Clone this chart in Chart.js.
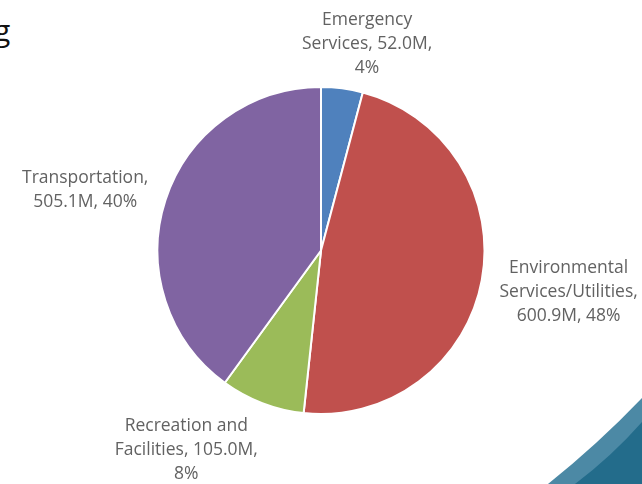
<!DOCTYPE html>
<html>
<head>
<meta charset="utf-8">
<script src="https://cdn.jsdelivr.net/npm/chart.js@4.4.1/dist/chart.umd.min.js"></script>
<style>
html, body { margin: 0; padding: 0; background: #fff; overflow: hidden; }
#marco { position: relative; width: 642px; height: 484px; }
#titulo { position: absolute; left: -6px; top: 9px; font: 30px "Open Sans", sans-serif; color: #111; }
#esquina { position: absolute; left: 0; top: 0; }
#grafico { position: absolute; left: 0; top: 0; }
</style>
</head>
<body>
<div id="marco">
  <div id="titulo">g</div>
  <svg id="esquina" width="642" height="484">
    <path d="M548 484 Q598 444 642 398 L642 484 Z" fill="#4c89a5"/>
    <path d="M575 484 Q612 456 642 422 L642 484 Z" fill="#236c8b"/>
  </svg>
  <canvas id="grafico" width="642" height="484"></canvas>
</div>
<script>
// gasto por area, en millones
var categorias = ["Emergency Services", "Environmental Services/Utilities", "Recreation and Facilities", "Transportation"];
var valores = [52.0, 600.9, 105.0, 505.1];
var colores = ["#4f81bd", "#c0504d", "#9bbb59", "#8064a2"];
// como se parte cada etiqueta en renglones ({v} = valor, {p} = porcentaje)
var formatos = [
    "Emergency\nServices, {v},\n{p}",
    "Environmental\nServices/Utilities,\n{v}, {p}",
    "Recreation and\nFacilities, {v},\n{p}",
    "Transportation,\n{v}, {p}"
];

var LH = 24;
function tope(n){ return Math.max(-1, Math.min(1, n)); }

// etiquetas fuera de cada porcion
var etiquetas = {
    id: "etiquetas",
    afterDatasetsDraw(chart){
        var ctx = chart.ctx;
        var meta = chart.getDatasetMeta(0);
        var total = valores.reduce((a, b) => a + b, 0);
        ctx.save();
        ctx.font = '17.5px "Open Sans"';
        ctx.fillStyle = "#626262";
        ctx.textAlign = "center";
        ctx.textBaseline = "middle";
        meta.data.forEach((arc, i) => {
            var p = arc.getProps(["x", "y", "startAngle", "endAngle", "outerRadius"], true);
            var mid = (p.startAngle + p.endAngle) / 2;
            var ux = Math.cos(mid), uy = Math.sin(mid);
            var pct = Math.round(valores[i] * 100 / total);
            var lineas = formatos[i].replace("{v}", valores[i].toFixed(1) + "M").replace("{p}", pct + "%").split("\n");
            var ancho = Math.max(...lineas.map(l => ctx.measureText(l).width));
            var alto = lineas.length * LH;
            var ax = p.x + ux * (p.outerRadius + 18);
            var ay = p.y + uy * (p.outerRadius + 10) + 2;
            var cx = ax + tope(ux * 2.7) * ancho / 2;
            var cy = ay + tope(uy * 1.2) * alto / 2;
            lineas.forEach((l, k) => ctx.fillText(l, cx, cy - alto / 2 + LH * (k + 0.5)));
        });
        ctx.restore();
    }
};

var ctx = document.getElementById("grafico").getContext("2d");
var chart = new Chart(ctx, {
    type: "pie",
    data: {
        labels: categorias,
        datasets: [{
            data: valores,
            backgroundColor: colores,
            borderColor: "#ffffff",
            borderWidth: 2
        }]
    },
    options: {
        responsive: false,
        animation: false,
        layout: { padding: { top: 86, bottom: 69, left: 0, right: 0 } },
        plugins: {
            legend: { display: false },
            tooltip: { enabled: false }
        }
    },
    plugins: [etiquetas]
});
</script>
</body>
</html>
